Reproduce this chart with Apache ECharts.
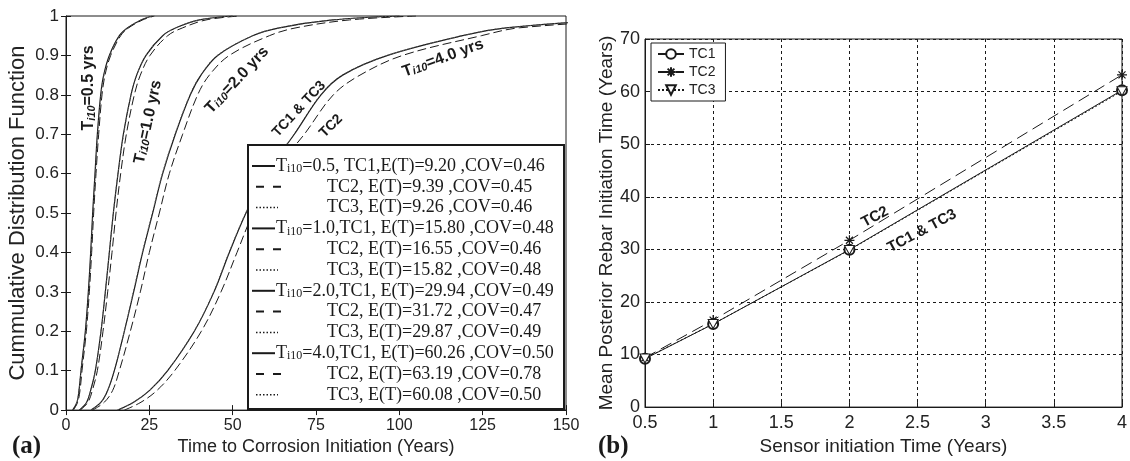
<!DOCTYPE html>
<html><head><meta charset="utf-8">
<script src="https://cdn.jsdelivr.net/npm/echarts@6/dist/echarts.min.js"></script>
<style>html,body{margin:0;padding:0;background:#fff}#c{width:1130px;height:461px}</style>
</head><body><div id="c"></div>
<script>
// ---------- Data: panel (a) CDF curves (probability levels vs. time)
const cdfLevels = [0, 0.02, 0.05, 0.1, 0.2, 0.3, 0.4, 0.5, 0.6, 0.7, 0.8, 0.85, 0.9, 0.95, 0.97, 0.99, 1];
const t05_tc1 = [2.0, 3.3, 3.9, 4.5, 5.8, 6.7, 7.4, 8.0, 8.7, 9.4, 10.4, 11.3, 13.0, 16.0, 18.5, 22.5, 26.0];
const t05_tc2 = [2.2, 3.5, 4.2, 4.8, 6.1, 7.0, 7.7, 8.3, 9.0, 9.8, 10.8, 11.7, 13.4, 16.4, 18.8, 23.0, 26.5];
const t05_tc3 = [2.0, 3.3, 3.9, 4.5, 5.9, 6.8, 7.5, 8.1, 8.8, 9.5, 10.5, 11.4, 13.1, 16.0, 18.5, 22.5, 26.0];
const t10_tc1 = [4.0, 6.2, 7.4, 8.8, 10.5, 11.8, 13.0, 14.2, 15.6, 17.2, 19.5, 21.2, 24.0, 29.0, 33.0, 40.0, 50.0];
const t10_tc2 = [4.3, 6.6, 7.9, 9.4, 11.1, 12.5, 13.8, 15.0, 16.4, 18.1, 20.5, 22.3, 25.2, 30.5, 35.0, 42.0, 52.0];
const t10_tc3 = [4.0, 6.2, 7.4, 8.8, 10.5, 11.8, 13.0, 14.2, 15.6, 17.3, 19.5, 21.2, 24.0, 29.0, 33.0, 40.0, 50.0];
const t20_tc1 = [7.5, 10.5, 12.5, 14.5, 17.5, 20.3, 23.0, 26.0, 29.0, 32.8, 37.3, 40.5, 45.5, 56.0, 64.0, 80.0, 100.0];
const t20_tc2 = [8.0, 11.5, 14.0, 16.0, 19.3, 22.3, 25.0, 28.0, 31.0, 35.0, 39.5, 43.0, 49.0, 61.0, 69.0, 85.0, 105.0];
const t20_tc3 = [7.5, 10.5, 12.5, 14.5, 17.5, 20.2, 22.9, 25.9, 28.9, 32.7, 37.2, 40.4, 45.4, 56.0, 64.0, 80.0, 100.0];
const t40_tc1 = [15.5, 20.3, 25.1, 30.5, 38.5, 44.4, 49.0, 54.0, 60.0, 68.5, 76.5, 83.0, 96.5, 119.0, 132.0, 165.0, 210.0];
const t40_tc2 = [17.5, 22.5, 27.3, 32.6, 40.6, 46.5, 51.3, 56.1, 62.0, 71.5, 80.2, 88.2, 101.0, 124.6, 136.0, 175.0, 230.0];
const t40_tc3 = [15.5, 20.2, 25.0, 30.4, 38.4, 44.3, 48.9, 53.9, 59.9, 68.4, 76.4, 82.9, 96.4, 119.0, 132.0, 165.0, 210.0];

// Legend table of panel (a)
const legendT = ['0.5', '1.0', '2.0', '4.0'];
const legendTC = ['TC1', 'TC2', 'TC3'];
const meanET = [[9.20, 9.39, 9.26], [15.80, 16.55, 15.82], [29.94, 31.72, 29.87], [60.26, 63.19, 60.08]];
const covET = [[0.46, 0.45, 0.46], [0.48, 0.46, 0.48], [0.49, 0.47, 0.49], [0.50, 0.78, 0.50]];

// ---------- Data: panel (b)
const sensorTimes = [0.5, 1, 2, 4];
const tc1Mean = [9.20, 15.80, 29.94, 60.26];
const tc2Mean = [9.39, 16.55, 31.72, 63.19];
const tc3Mean = [9.26, 15.82, 29.87, 60.08];

// ---------- Build
const FONT = '"Liberation Sans", Arial, sans-serif';
const SERIF = '"Liberation Serif", "Times New Roman", serif';
const INK = '#1a1a1a';

const curves = [
  [t05_tc1, t05_tc2, t05_tc3],
  [t10_tc1, t10_tc2, t10_tc3],
  [t20_tc1, t20_tc2, t20_tc3],
  [t40_tc1, t40_tc2, t40_tc3]
];
const tcStyles = [
  { type: 'solid', width: 1.2, color: INK },
  { type: [9, 4], width: 1, color: INK },
  { type: [1.5, 2], width: 1, color: '#555' }
];

const series = [];
curves.forEach((group, gi) => {
  group.forEach((times, ti) => {
    series.push({
      name: 'a-' + legendT[gi] + '-' + legendTC[ti],
      type: 'line', xAxisIndex: 0, yAxisIndex: 0,
      data: times.map((t, i) => [t, cdfLevels[i]]),
      showSymbol: false, symbol: 'none', smooth: 0.35,
      clip: true, silent: true, z: ti === 2 ? 4 : 3,
      lineStyle: tcStyles[ti]
    });
  });
});

const starPath = 'path://M5,0L5,10M0,5L10,5M1.5,1.5L8.5,8.5M8.5,1.5L1.5,8.5';
const triPath = 'path://M0,0L10,0L5,8.66Z';
series.push({
  name: 'TC1', type: 'line', xAxisIndex: 2, yAxisIndex: 2,
  data: sensorTimes.map((x, i) => [x, tc1Mean[i]]),
  symbol: 'emptyCircle', symbolSize: 10,
  lineStyle: { color: INK, width: 1, type: 'solid' },
  itemStyle: { color: INK, borderColor: INK, borderWidth: 1 }
});
series.push({
  name: 'TC2', type: 'line', xAxisIndex: 2, yAxisIndex: 2,
  data: sensorTimes.map((x, i) => [x, tc2Mean[i]]),
  symbol: starPath, symbolSize: 10,
  lineStyle: { color: INK, width: 1, type: [12, 6] },
  itemStyle: { color: INK, borderColor: INK, borderWidth: 1.2 }
});
series.push({
  name: 'TC3', type: 'line', xAxisIndex: 2, yAxisIndex: 2,
  data: sensorTimes.map((x, i) => [x, tc3Mean[i]]),
  symbol: triPath, symbolSize: [10, 9],
  lineStyle: { color: INK, width: 1, type: [2, 2] },
  itemStyle: { color: '#fff', borderColor: INK, borderWidth: 1 }
});

function baseAxis(extra) {
  return Object.assign({
    type: 'value',
    axisLine: { show: true, onZero: false, lineStyle: { color: INK, width: 1 } },
    axisTick: { show: true, inside: true, length: 5, lineStyle: { color: INK } },
    axisLabel: { color: '#222', fontSize: 16, fontFamily: FONT },
    splitLine: { show: false },
    nameTextStyle: { color: '#222', fontFamily: FONT }
  }, extra);
}
const gridDash = { show: true, lineStyle: { color: INK, type: [3, 3], width: 1 } };

// graphic: legend for (a) and annotations
const graphic = [];
const LX = 248, LY = 145, LW = 316, LH = 264;
graphic.push({ type: 'rect', z: 100, shape: { x: LX, y: LY, width: LW, height: LH },
  style: { fill: '#fff', stroke: INK, lineWidth: 2 } });
const subRichLegend = {
  m: { fontSize: 18, fontFamily: SERIF, fill: INK },
  s: { fontSize: 12, fontFamily: SERIF, fill: INK, verticalAlign: 'bottom', lineHeight: 12 }
};
let row = 0;
legendT.forEach((T, gi) => {
  legendTC.forEach((tc, ti) => {
    const y = 166 + row * 20.8;
    const m = meanET[gi][ti].toFixed(2), c = covET[gi][ti].toFixed(2);
    let text, x;
    if (ti === 0) {
      const body = gi === 0 ? ('=' + T + ', ' + tc + ',E(T)=' + m + ' ,COV=' + c)
                            : ('=' + T + ',' + tc + ', E(T)=' + m + ' ,COV=' + c);
      text = '{m|T}{s|i10}{m|' + body + '}';
      x = 276;
      graphic.push({ type: 'line', z: 101, shape: { x1: 252, y1: y, x2: 275, y2: y },
        style: { stroke: INK, lineWidth: 2 } });
    } else {
      text = '{m|' + tc + ', E(T)=' + m + ' ,COV=' + c + '}';
      x = 327;
      if (ti === 1) {
        graphic.push({ type: 'line', z: 101, shape: { x1: 256, y1: y, x2: 281, y2: y },
          style: { stroke: INK, lineWidth: 2, lineDash: [8, 9] } });
      } else {
        graphic.push({ type: 'line', z: 101, shape: { x1: 256, y1: y, x2: 278, y2: y },
          style: { stroke: INK, lineWidth: 1.5, lineDash: [1.5, 2] } });
      }
    }
    graphic.push({ type: 'text', z: 101, x: x, y: y,
      style: { text: text, rich: subRichLegend, align: 'left', verticalAlign: 'middle' } });
    row++;
  });
});

const curveRich = {
  m: { fontSize: 16, fontWeight: 'bold', fontFamily: FONT, fill: INK },
  s: { fontSize: 11, fontWeight: 'bold', fontStyle: 'italic', fontFamily: FONT, fill: INK, verticalAlign: 'bottom', lineHeight: 11 }
};
const tcRich = { m: { fontSize: 14, fontWeight: 'bold', fontFamily: FONT, fill: INK } };
const deg = Math.PI / 180;
const annotations = [
  { x: 89, y: 88, rot: 90, text: '{m|T}{s|i10}{m|=0.5 yrs}', rich: curveRich },
  { x: 148, y: 122, rot: 78, text: '{m|T}{s|i10}{m|=1.0 yrs}', rich: curveRich },
  { x: 237, y: 80, rot: 47, text: '{m|T}{s|i10}{m|=2.0 yrs}', rich: curveRich },
  { x: 299, y: 109, rot: 47, text: '{m|TC1 & TC3}', rich: tcRich },
  { x: 331, y: 126, rot: 45, text: '{m|TC2}', rich: tcRich },
  { x: 443, y: 58, rot: 20, text: '{m|T}{s|i10}{m|=4.0 yrs}', rich: curveRich },
  { x: 875, y: 217, rot: 28, text: '{m|TC2}', rich: { m: { fontSize: 15, fontWeight: 'bold', fontFamily: FONT, fill: INK } } },
  { x: 922, y: 231, rot: 28, text: '{m|TC1 & TC3}', rich: { m: { fontSize: 15, fontWeight: 'bold', fontFamily: FONT, fill: INK } } }
];
annotations.forEach(a => {
  graphic.push({ type: 'text', z: 50, x: a.x, y: a.y, rotation: a.rot * deg,
    style: { text: a.text, rich: a.rich, align: 'center', verticalAlign: 'middle' } });
});
graphic.push({ type: 'text', z: 50, x: 12, y: 447,
  style: { text: '(a)', font: 'bold 25px ' + SERIF, fill: INK, verticalAlign: 'middle' } });
graphic.push({ type: 'text', z: 50, x: 598, y: 447,
  style: { text: '(b)', font: 'bold 25px ' + SERIF, fill: INK, verticalAlign: 'middle' } });

const option = {
  backgroundColor: '#fff',
  animation: false,
  grid: [
    { left: 66, top: 16, width: 500, height: 396, show: true, borderColor: INK, borderWidth: 1, backgroundColor: '#fff', containLabel: false },
    { left: 645, top: 39, width: 480, height: 377, show: true, borderColor: INK, borderWidth: 1, backgroundColor: '#fff', containLabel: false }
  ],
  xAxis: [
    baseAxis({ gridIndex: 0, min: 0, max: 150, interval: 25,
      name: 'Time to Corrosion Initiation (Years)', nameLocation: 'middle', nameGap: 20,
      nameTextStyle: { fontSize: 18, color: '#222', fontFamily: FONT },
      axisLabel: { color: '#222', fontSize: 16, fontFamily: FONT, margin: 7 } }),
    baseAxis({ gridIndex: 0, min: 0, max: 150, interval: 25, position: 'top',
      axisLine: { show: false }, axisLabel: { show: false } }),
    baseAxis({ gridIndex: 1, min: 0.5, max: 4, interval: 0.5,
      name: 'Sensor initiation Time (Years)', nameLocation: 'middle', nameGap: 26,
      nameTextStyle: { fontSize: 19, color: '#222', fontFamily: FONT },
      axisLabel: { color: '#222', fontSize: 18, fontFamily: FONT, margin: 7 },
      splitLine: gridDash })
  ],
  yAxis: [
    baseAxis({ gridIndex: 0, min: 0, max: 1, interval: 0.1,
      name: 'Cummulative Distribution Function', nameLocation: 'middle', nameRotate: 90, nameGap: 37,
      nameTextStyle: { fontSize: 22, color: '#222', fontFamily: FONT },
      axisLabel: { color: '#222', fontSize: 17, fontFamily: FONT, margin: 7 } }),
    baseAxis({ gridIndex: 0, min: 0, max: 1, interval: 0.1, position: 'right',
      axisLine: { show: false }, axisLabel: { show: false } }),
    baseAxis({ gridIndex: 1, min: 0, max: 70, interval: 10,
      name: 'Mean Posterior Rebar Initiation Time (Years)', nameLocation: 'middle', nameRotate: 90, nameGap: 28,
      nameTextStyle: { fontSize: 19, color: '#222', fontFamily: FONT },
      axisLabel: { color: '#222', fontSize: 18, fontFamily: FONT, margin: 5 },
      splitLine: gridDash })
  ],
  legend: {
    data: ['TC1', 'TC2', 'TC3'], orient: 'vertical', left: 651, top: 43,
    itemWidth: 26, itemHeight: 12, itemGap: 4, padding: [4, 10, 4, 6],
    backgroundColor: '#fff', borderColor: INK, borderWidth: 1, borderRadius: 0,
    textStyle: { fontSize: 14, fontFamily: FONT, color: '#222' },
    selectedMode: false
  },
  series: series,
  graphic: graphic
};
const chart = echarts.init(document.getElementById('c'), null, { renderer: 'canvas' });
chart.setOption(option);
</script></body></html>
